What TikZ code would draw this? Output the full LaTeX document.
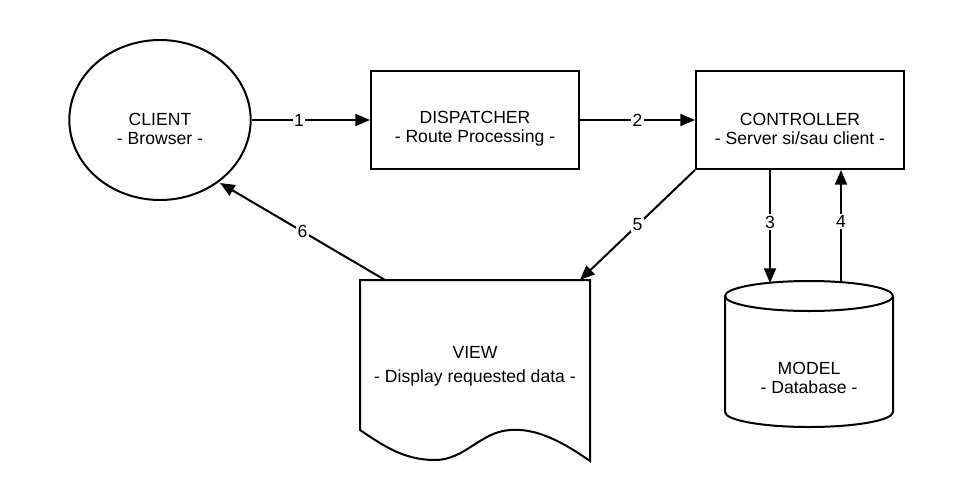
\documentclass[tikz,border=0pt]{standalone}
\usepackage{fontspec}
\setmainfont{Liberation Sans}
\usetikzlibrary{arrows.meta,shapes.geometric}
\begin{document}
\begin{tikzpicture}[x=0.75pt,y=-0.75pt,
  every node/.style={font=\fontsize{13.2}{14.25}\selectfont},
  line/.style={line width=1.5pt, black, line join=miter},
  conn/.style={line width=1.5pt,-{Triangle[length=11pt,width=9pt]}},
  lbl/.style={fill=white, inner sep=1pt},
  txt/.style={align=center, inner sep=0pt},
  box/.style={draw, line width=1.5pt, minimum width=156pt, minimum height=73.5pt, inner sep=0pt}]
\useasboundingbox (0,0) rectangle (970,500);
% nodes
\node[ellipse, draw, line width=1.5pt, minimum width=136pt, minimum height=120pt, inner sep=0pt] (client) at (160,120) {};
\node[txt] (clienttext) at (160,129) {CLIENT\\- Browser -};
\node[box] (disp) at (475,120) {};
\node[txt] (disptext) at (475,129) {DISPATCHER\\- Route Processing -};
\node[box] (ctrl) at (800,120) {};
\node[txt] (ctrltext) at (800,129) {CONTROLLER\\- Server si/sau client -};
% view (document shape)
\draw[line] (360,280) -- (590,280) -- (590,461)
  .. controls (560,440) and (535,428) .. (510,430)
  .. controls (480,432) and (465,460) .. (435,460)
  .. controls (405,460) and (385,447) .. (360,430) -- cycle;
\node[txt, font=\fontsize{13.2}{18}\selectfont] (view) at (475,366) {VIEW\\- Display requested data -};
\coordinate (viewtl) at (385,280);
\coordinate (viewtr) at (580,280);
% model (cylinder)
\draw[line] (725,296) -- (725,412) arc[start angle=180,end angle=360,x radius=63pt,y radius=11.25pt] -- (893,296);
\draw[line] (809,296) ellipse [x radius=63pt, y radius=11.25pt];
\node[txt] (model) at (809,378) {MODEL\\- Database -};
\coordinate (m3) at (770,283);
\coordinate (m4) at (841,282);
\coordinate (clientpt) at (220,183);
% connectors
\draw[conn] (client.east) -- node[lbl, pos=0.4]{1} (disp.west);
\draw[conn] (disp.east) -- node[lbl, pos=0.5]{2} (ctrl.west);
\draw[conn] (ctrl.south -| m3) -- node[lbl, pos=0.46]{3} (m3);
\draw[conn] (m4) -- node[lbl, pos=0.54]{4} (ctrl.south -| m4);
\draw[conn] (ctrl.south west) -- node[lbl, pos=0.5]{5} (viewtr);
\draw[conn] (viewtl) -- node[lbl, pos=0.5]{6} (clientpt);
\end{tikzpicture}
\end{document}
